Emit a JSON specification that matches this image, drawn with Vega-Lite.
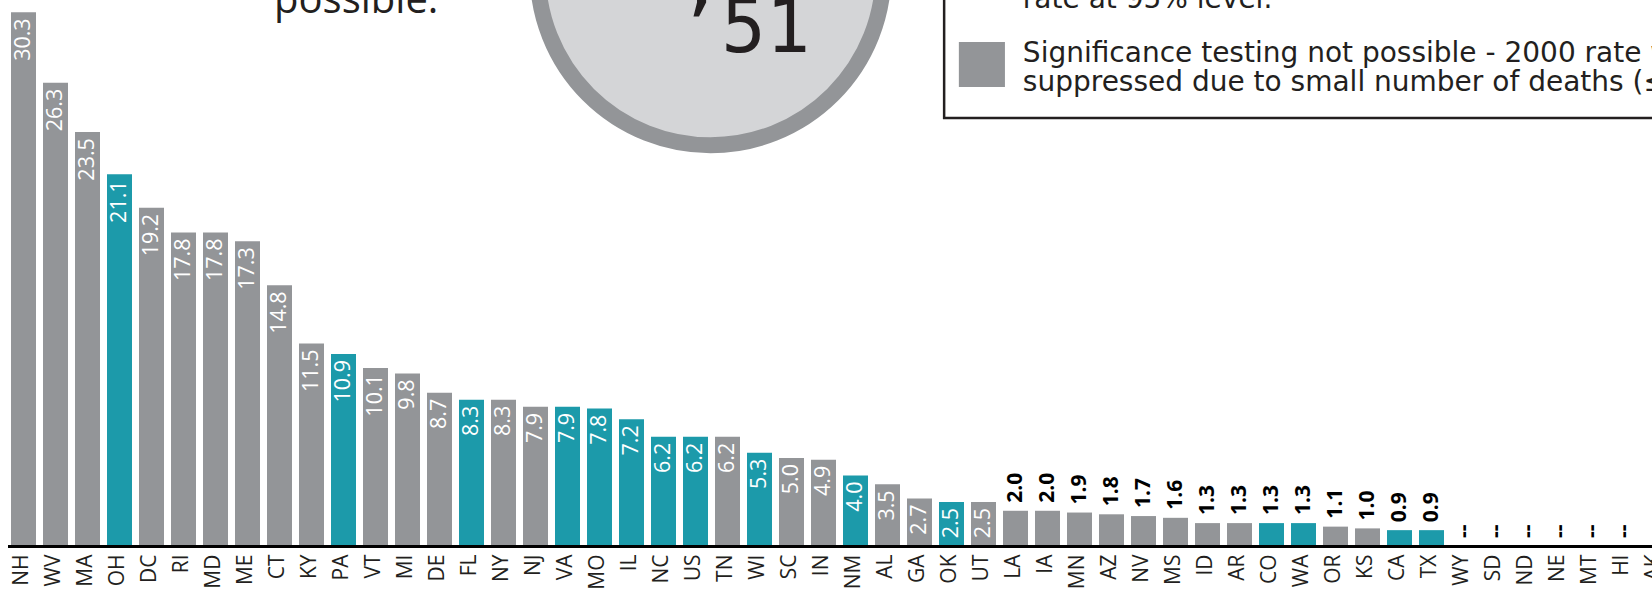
{
  "$schema": "https://vega.github.io/schema/vega-lite/v6.json",
  "width": 1644,
  "height": 546,
  "autosize": {"type": "none"},
  "padding": {"left": 7.5, "top": 0, "right": 0, "bottom": 45},
  "background": "white",
  "config": {"view": {"stroke": null}},
  "datasets": {
    "rates": [
      {"state": "NH", "value": 30.3, "label": "30.3", "status": "not testable"},
      {"state": "WV", "value": 26.3, "label": "26.3", "status": "not testable"},
      {"state": "MA", "value": 23.5, "label": "23.5", "status": "not testable"},
      {"state": "OH", "value": 21.1, "label": "21.1", "status": "significant"},
      {"state": "DC", "value": 19.2, "label": "19.2", "status": "not testable"},
      {"state": "RI", "value": 17.8, "label": "17.8", "status": "not testable"},
      {"state": "MD", "value": 17.8, "label": "17.8", "status": "not testable"},
      {"state": "ME", "value": 17.3, "label": "17.3", "status": "not testable"},
      {"state": "CT", "value": 14.8, "label": "14.8", "status": "not testable"},
      {"state": "KY", "value": 11.5, "label": "11.5", "status": "not testable"},
      {"state": "PA", "value": 10.9, "label": "10.9", "status": "significant"},
      {"state": "VT", "value": 10.1, "label": "10.1", "status": "not testable"},
      {"state": "MI", "value": 9.8, "label": "9.8", "status": "not testable"},
      {"state": "DE", "value": 8.7, "label": "8.7", "status": "not testable"},
      {"state": "FL", "value": 8.3, "label": "8.3", "status": "significant"},
      {"state": "NY", "value": 8.3, "label": "8.3", "status": "not testable"},
      {"state": "NJ", "value": 7.9, "label": "7.9", "status": "not testable"},
      {"state": "VA", "value": 7.9, "label": "7.9", "status": "significant"},
      {"state": "MO", "value": 7.8, "label": "7.8", "status": "significant"},
      {"state": "IL", "value": 7.2, "label": "7.2", "status": "significant"},
      {"state": "NC", "value": 6.2, "label": "6.2", "status": "significant"},
      {"state": "US", "value": 6.2, "label": "6.2", "status": "significant"},
      {"state": "TN", "value": 6.2, "label": "6.2", "status": "not testable"},
      {"state": "WI", "value": 5.3, "label": "5.3", "status": "significant"},
      {"state": "SC", "value": 5.0, "label": "5.0", "status": "not testable"},
      {"state": "IN", "value": 4.9, "label": "4.9", "status": "not testable"},
      {"state": "NM", "value": 4.0, "label": "4.0", "status": "significant"},
      {"state": "AL", "value": 3.5, "label": "3.5", "status": "not testable"},
      {"state": "GA", "value": 2.7, "label": "2.7", "status": "not testable"},
      {"state": "OK", "value": 2.5, "label": "2.5", "status": "significant"},
      {"state": "UT", "value": 2.5, "label": "2.5", "status": "not testable"},
      {"state": "LA", "value": 2.0, "label": "2.0", "status": "not testable"},
      {"state": "IA", "value": 2.0, "label": "2.0", "status": "not testable"},
      {"state": "MN", "value": 1.9, "label": "1.9", "status": "not testable"},
      {"state": "AZ", "value": 1.8, "label": "1.8", "status": "not testable"},
      {"state": "NV", "value": 1.7, "label": "1.7", "status": "not testable"},
      {"state": "MS", "value": 1.6, "label": "1.6", "status": "not testable"},
      {"state": "ID", "value": 1.3, "label": "1.3", "status": "not testable"},
      {"state": "AR", "value": 1.3, "label": "1.3", "status": "not testable"},
      {"state": "CO", "value": 1.3, "label": "1.3", "status": "significant"},
      {"state": "WA", "value": 1.3, "label": "1.3", "status": "significant"},
      {"state": "OR", "value": 1.1, "label": "1.1", "status": "not testable"},
      {"state": "KS", "value": 1.0, "label": "1.0", "status": "not testable"},
      {"state": "CA", "value": 0.9, "label": "0.9", "status": "significant"},
      {"state": "TX", "value": 0.9, "label": "0.9", "status": "significant"},
      {"state": "WY", "value": null, "label": "--", "status": "suppressed"},
      {"state": "SD", "value": null, "label": "--", "status": "suppressed"},
      {"state": "ND", "value": null, "label": "--", "status": "suppressed"},
      {"state": "NE", "value": null, "label": "--", "status": "suppressed"},
      {"state": "MT", "value": null, "label": "--", "status": "suppressed"},
      {"state": "HI", "value": null, "label": "--", "status": "suppressed"},
      {"state": "AK", "value": null, "label": "--", "status": "suppressed"}
    ]
  },
  "resolve": {"scale": {"x": "independent"}, "axis": {"x": "independent"}},
  "layer": [
    {
      "encoding": {
        "x": {"datum": 0, "type": "quantitative", "scale": {"domain": [0, 52], "range": [0, 1664], "zero": false, "nice": false}, "axis": null}
      },
      "layer": [
        {
          "data": {"values": [{"kind": "badge"}]},
          "mark": {"type": "point", "shape": "circle", "filled": true, "fill": "#d4d5d7", "stroke": "#939598", "strokeWidth": 16, "opacity": 1, "size": 119577},
          "encoding": {
            "x": {"datum": 21.97, "type": "quantitative", "scale": {"domain": [0, 52], "range": [0, 1664], "zero": false, "nice": false}, "axis": null},
            "y": {"datum": 32.57, "type": "quantitative", "scale": {"domain": [0, 31]}, "axis": null}
          }
        },
        {
          "data": {"values": [{"t": "’51"}]},
          "mark": {"type": "text", "font": "DejaVu Sans Mono", "fontSize": 74, "align": "center", "baseline": "alphabetic", "color": "#231f20"},
          "encoding": {
            "x": {"datum": 23.0, "type": "quantitative", "scale": {"domain": [0, 52], "range": [0, 1664], "zero": false, "nice": false}, "axis": null},
            "y": {"datum": 28.05, "type": "quantitative", "scale": {"domain": [0, 31]}, "axis": null},
            "text": {"field": "t"}
          }
        },
        {
          "data": {"values": [{"t": "possible."}]},
          "mark": {"type": "text", "font": "Open Sans", "fontSize": 40, "align": "left", "baseline": "alphabetic", "color": "#231f20"},
          "encoding": {
            "x": {"datum": 8.33, "type": "quantitative", "scale": {"domain": [0, 52], "range": [0, 1664], "zero": false, "nice": false}, "axis": null},
            "y": {"datum": 30.26, "type": "quantitative", "scale": {"domain": [0, 31]}, "axis": null},
            "text": {"field": "t"}
          }
        },
        {
          "data": {"values": [{"kind": "legend box"}]},
          "mark": {"type": "rect", "fill": "white", "stroke": "#231f20", "strokeWidth": 2.5},
          "encoding": {
            "x": {"datum": 29.27, "type": "quantitative", "scale": {"domain": [0, 52], "range": [0, 1664], "zero": false, "nice": false}, "axis": null},
            "x2": {"datum": 52.5},
            "y": {"datum": 31.57, "type": "quantitative", "scale": {"domain": [0, 31]}, "axis": null},
            "y2": {"datum": 24.3}
          }
        },
        {
          "data": {"values": [{"kind": "swatch"}]},
          "mark": {"type": "rect", "fill": "#939598"},
          "encoding": {
            "x": {"datum": 29.73, "type": "quantitative", "scale": {"domain": [0, 52], "range": [0, 1664], "zero": false, "nice": false}, "axis": null},
            "x2": {"datum": 31.17},
            "y": {"datum": 28.62, "type": "quantitative", "scale": {"domain": [0, 31]}, "axis": null},
            "y2": {"datum": 26.06}
          }
        },
        {
          "data": {"values": [{"t": "rate at 95% level."}]},
          "mark": {"type": "text", "font": "DejaVu Sans", "fontSize": 28, "align": "left", "baseline": "alphabetic", "color": "#231f20"},
          "encoding": {
            "x": {"datum": 31.73, "type": "quantitative", "scale": {"domain": [0, 52], "range": [0, 1664], "zero": false, "nice": false}, "axis": null},
            "y": {"datum": 30.52, "type": "quantitative", "scale": {"domain": [0, 31]}, "axis": null},
            "text": {"field": "t"}
          }
        },
        {
          "data": {"values": [{"t": "Significance testing not possible - 2000 rate was"}]},
          "mark": {"type": "text", "font": "DejaVu Sans", "fontSize": 28, "align": "left", "baseline": "alphabetic", "color": "#231f20"},
          "encoding": {
            "x": {"datum": 31.73, "type": "quantitative", "scale": {"domain": [0, 52], "range": [0, 1664], "zero": false, "nice": false}, "axis": null},
            "y": {"datum": 27.47, "type": "quantitative", "scale": {"domain": [0, 31]}, "axis": null},
            "text": {"field": "t"}
          }
        },
        {
          "data": {"values": [{"t": "suppressed due to small number of deaths (≤9)."}]},
          "mark": {"type": "text", "font": "DejaVu Sans", "fontSize": 28, "align": "left", "baseline": "alphabetic", "color": "#231f20"},
          "encoding": {
            "x": {"datum": 31.73, "type": "quantitative", "scale": {"domain": [0, 52], "range": [0, 1664], "zero": false, "nice": false}, "axis": null},
            "y": {"datum": 25.85, "type": "quantitative", "scale": {"domain": [0, 31]}, "axis": null},
            "text": {"field": "t"}
          }
        }
      ]
    },
    {
      "data": {"name": "rates"},
      "encoding": {
        "x": {
          "field": "state",
          "type": "nominal",
          "sort": null,
          "scale": {"range": [0, 1664], "paddingInner": 0.21875, "paddingOuter": 0.109375},
          "axis": {
            "title": null,
            "orient": "bottom",
            "ticks": false,
            "domainColor": "#000000",
            "domainWidth": 3,
            "labelAngle": 270,
            "labelFont": "Open Sans",
            "labelFontSize": 21,
            "labelColor": "#231f20",
            "labelPadding": 8,
            "labelOffset": -2,
            "labelOverlap": false,
            "labelBound": false,
            "zindex": 1
          }
        }
      },
      "layer": [
        {
          "mark": {"type": "bar"},
          "encoding": {
            "y": {"field": "value", "type": "quantitative", "scale": {"domain": [0, 31]}, "axis": null},
            "color": {"field": "status", "type": "nominal", "scale": {"domain": ["significant", "not testable", "suppressed"], "range": ["#1c9aaa", "#939598", "#939598"]}, "legend": null}
          }
        },
        {
          "transform": [{"filter": "datum.value >= 2.5"}],
          "mark": {"type": "text", "angle": 270, "align": "right", "baseline": "middle", "dx": -6, "font": "Open Sans", "fontSize": 21.5, "color": "white"},
          "encoding": {
            "y": {"field": "value", "type": "quantitative", "scale": {"domain": [0, 31]}, "axis": null},
            "text": {"field": "label"}
          }
        },
        {
          "transform": [{"filter": "isValid(datum.value) && datum.value < 2.5"}],
          "mark": {"type": "text", "angle": 270, "align": "left", "baseline": "middle", "dx": 8, "font": "Open Sans", "fontSize": 21, "fontWeight": "bold", "color": "#000000"},
          "encoding": {
            "y": {"field": "value", "type": "quantitative", "scale": {"domain": [0, 31]}, "axis": null},
            "text": {"field": "label"}
          }
        },
        {
          "transform": [{"filter": "!isValid(datum.value)"}],
          "mark": {"type": "text", "angle": 270, "align": "left", "baseline": "middle", "dx": 8, "font": "Open Sans", "fontSize": 21, "fontWeight": "bold", "color": "#000000"},
          "encoding": {
            "y": {"datum": 0, "type": "quantitative", "scale": {"domain": [0, 31]}, "axis": null},
            "text": {"field": "label"}
          }
        }
      ]
    }
  ]
}
